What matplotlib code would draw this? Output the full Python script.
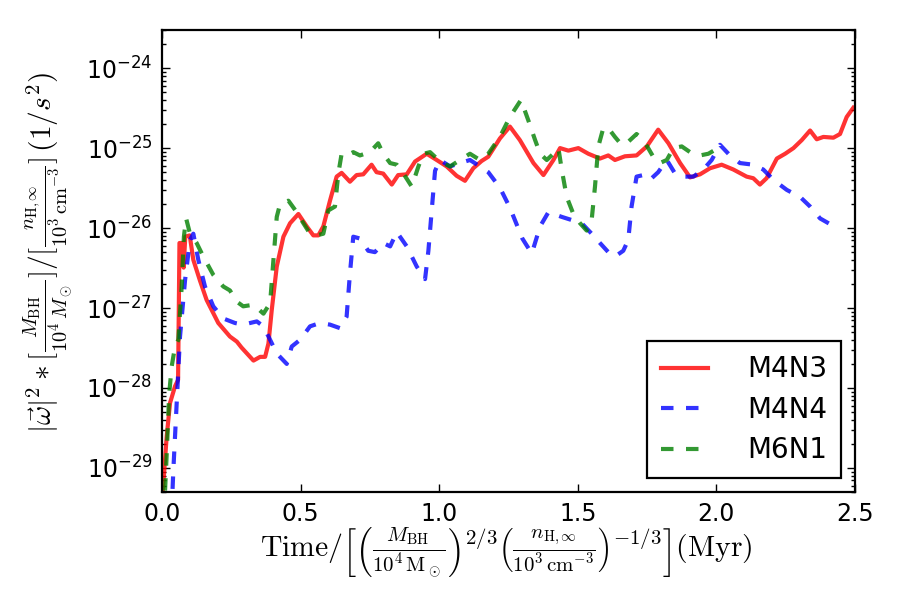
import matplotlib
matplotlib.use("Agg")
import matplotlib.pyplot as plt
from matplotlib.ticker import FormatStrFormatter, LogLocator

plt.rcParams['font.family'] = ['DejaVu Sans']
plt.rcParams['mathtext.fontset'] = 'cm'
plt.rcParams['axes.unicode_minus'] = False

labels = ["M4N3", "M4N4", "M6N1"]

m4n3_t = [0.003, 0.017, 0.029, 0.047, 0.058, 0.063, 0.072, 0.078, 0.084, 0.100,
          0.113, 0.137, 0.161, 0.203, 0.245, 0.270, 0.287, 0.330, 0.354, 0.372,
          0.384, 0.396, 0.414, 0.438, 0.462, 0.492, 0.522, 0.546, 0.564, 0.582,
          0.606, 0.630, 0.648, 0.678, 0.702, 0.726, 0.756, 0.774, 0.798, 0.829,
          0.852, 0.883, 0.913, 0.955, 0.991, 1.027, 1.063, 1.093, 1.123, 1.153,
          1.177, 1.219, 1.255, 1.291, 1.340, 1.376, 1.412, 1.436, 1.466, 1.502,
          1.538, 1.580, 1.610, 1.634, 1.670, 1.712, 1.749, 1.790, 1.827, 1.869,
          1.905, 1.941, 1.977, 2.019, 2.061, 2.109, 2.133, 2.157, 2.181, 2.218,
          2.248, 2.278, 2.308, 2.338, 2.362, 2.386, 2.422, 2.446, 2.470, 2.494]
m4n3_w = [5.2e-30, 2.5e-29, 6.5e-29, 1.05e-28, 1.26e-28, 6.5e-27, 6.5e-27, 3.2e-27, 7.8e-27, 8.1e-27,
          4.0e-27, 2.2e-27, 1.26e-27, 6.5e-28, 4.4e-28, 3.8e-28, 3.2e-28, 2.2e-28, 2.45e-28, 2.45e-28,
          3.6e-28, 9.5e-28, 3.3e-27, 7.8e-27, 1.15e-26, 1.5e-26, 1.05e-26, 8.1e-27, 8.1e-27, 1.05e-26,
          2.2e-26, 4.4e-26, 4.9e-26, 3.8e-26, 4.6e-26, 4.7e-26, 6.2e-26, 5.0e-26, 4.8e-26, 3.5e-26,
          4.6e-26, 4.7e-26, 6.8e-26, 8.5e-26, 7.1e-26, 5.9e-26, 4.5e-26, 3.9e-26, 5.6e-26, 6.9e-26,
          7.8e-26, 1.32e-25, 1.86e-25, 1.26e-25, 6.5e-26, 4.6e-26, 7.1e-26, 1.0e-25, 9.3e-26, 1.0e-25,
          8.5e-26, 7.4e-26, 8.1e-26, 7.1e-26, 7.9e-26, 8.1e-26, 1.05e-25, 1.7e-25, 1.15e-25, 6.5e-26,
          4.3e-26, 4.7e-26, 5.6e-26, 6.2e-26, 5.4e-26, 4.4e-26, 4.2e-26, 3.5e-26, 4.2e-26, 7.4e-26,
          8.5e-26, 1.0e-25, 1.26e-25, 1.66e-25, 1.29e-25, 1.38e-25, 1.35e-25, 1.5e-25, 2.45e-25, 3.2e-25]

m4n4_t = [0.020, 0.035, 0.041, 0.053, 0.065, 0.083, 0.101, 0.113, 0.131, 0.155,
          0.185, 0.221, 0.263, 0.293, 0.342, 0.366, 0.390, 0.414, 0.450, 0.468,
          0.498, 0.534, 0.570, 0.606, 0.642, 0.666, 0.678, 0.690, 0.714, 0.744,
          0.768, 0.798, 0.823, 0.847, 0.883, 0.919, 0.949, 0.961, 0.973, 0.985,
          1.003, 1.039, 1.075, 1.111, 1.147, 1.177, 1.219, 1.255, 1.300, 1.334,
          1.364, 1.394, 1.442, 1.478, 1.514, 1.550, 1.580, 1.610, 1.634, 1.664,
          1.682, 1.694, 1.712, 1.736, 1.760, 1.790, 1.821, 1.851, 1.881, 1.917,
          1.953, 1.983, 2.013, 2.049, 2.085, 2.133, 2.169, 2.206, 2.254, 2.302,
          2.338, 2.374, 2.410, 2.446]
m4n4_w = [3.0e-30, 3.0e-30, 9.5e-30, 6.5e-29, 4.4e-28, 2.2e-27, 7.1e-27, 8.5e-27, 4.0e-27, 1.86e-27,
          1.05e-27, 7.4e-28, 6.5e-28, 6.2e-28, 6.8e-28, 5.9e-28, 4.0e-28, 2.7e-28, 2.0e-28, 3.3e-28,
          4.0e-28, 5.9e-28, 6.5e-28, 6.2e-28, 5.6e-28, 7.8e-28, 2.7e-27, 7.8e-27, 7.4e-27, 5.2e-27,
          5.0e-27, 6.5e-27, 5.9e-27, 8.9e-27, 5.9e-27, 3.3e-27, 2.3e-27, 5.2e-27, 1.66e-26, 5.2e-26,
          7.1e-26, 5.9e-26, 6.5e-26, 7.1e-26, 5.9e-26, 5.0e-26, 3.2e-26, 1.8e-26, 7.4e-27, 4.8e-27,
          1.05e-26, 1.58e-26, 1.38e-26, 1.26e-26, 1.15e-26, 8.5e-27, 6.5e-27, 5.0e-27, 4.4e-27, 5.2e-27,
          7.1e-27, 1.86e-26, 4.4e-26, 4.6e-26, 4.0e-26, 5.0e-26, 7.1e-26, 4.8e-26, 4.4e-26, 4.4e-26,
          5.4e-26, 7.1e-26, 1.1e-25, 8.1e-26, 6.5e-26, 6.2e-26, 5.4e-26, 4.0e-26, 3.0e-26, 2.45e-26,
          1.86e-26, 1.32e-26, 1.12e-26, 1.02e-26]

m6n1_t = [0.011, 0.017, 0.026, 0.035, 0.047, 0.059, 0.071, 0.079, 0.087, 0.101,
          0.125, 0.149, 0.185, 0.221, 0.245, 0.270, 0.293, 0.330, 0.366, 0.390,
          0.402, 0.414, 0.426, 0.456, 0.486, 0.510, 0.534, 0.558, 0.582, 0.600,
          0.624, 0.636, 0.648, 0.666, 0.690, 0.714, 0.750, 0.780, 0.798, 0.823,
          0.847, 0.871, 0.901, 0.925, 0.943, 0.967, 1.003, 1.039, 1.075, 1.111,
          1.147, 1.177, 1.219, 1.255, 1.295, 1.322, 1.346, 1.364, 1.388, 1.412,
          1.430, 1.442, 1.460, 1.484, 1.508, 1.532, 1.550, 1.562, 1.574, 1.592,
          1.610, 1.634, 1.658, 1.682, 1.712, 1.736, 1.754, 1.772, 1.796, 1.821,
          1.845, 1.875, 1.905, 1.941, 1.971, 1.995]
m6n1_w = [5.2e-30, 1.5e-29, 8.5e-29, 1.86e-28, 3.3e-28, 4.0e-28, 1.86e-27, 7.8e-27, 1.32e-26, 8.5e-27,
          6.5e-27, 4.4e-27, 2.6e-27, 1.86e-27, 1.66e-27, 1.2e-27, 1.05e-27, 1.1e-27, 8.5e-28, 1.15e-27,
          4.0e-27, 1.38e-26, 2.0e-26, 2.2e-26, 1.58e-26, 1.15e-26, 8.5e-27, 8.1e-27, 8.5e-27, 1.66e-26,
          1.86e-26, 4.8e-26, 8.5e-26, 8.1e-26, 8.9e-26, 8.1e-26, 8.9e-26, 1.15e-25, 8.5e-26, 6.5e-26,
          6.2e-26, 4.8e-26, 3.3e-26, 5.9e-26, 8.5e-26, 8.9e-26, 6.8e-26, 5.9e-26, 7.1e-26, 8.5e-26,
          7.1e-26, 8.5e-26, 1.38e-25, 2.45e-25, 4.0e-25, 2.2e-25, 1.26e-25, 8.5e-26, 7.1e-26, 8.5e-26,
          1.0e-25, 5.4e-26, 2.45e-26, 1.5e-26, 1.15e-26, 9.3e-27, 1.26e-26, 3.3e-26, 1.05e-25, 1.78e-25,
          1.78e-25, 1.38e-25, 1.1e-25, 1.2e-25, 1.5e-25, 1.26e-25, 1.0e-25, 7.8e-26, 6.5e-26, 7.1e-26,
          1.0e-25, 1.05e-25, 8.9e-26, 8.1e-26, 8.5e-26, 9.5e-26]

xticks = [0.0, 0.5, 1.0, 1.5, 2.0, 2.5]
yticks = [1e-29, 1e-28, 1e-27, 1e-26, 1e-25, 1e-24]

fig = plt.figure(figsize=(9, 6), dpi=100)
ax = fig.add_axes([0.18, 0.18, 0.77, 0.77])

ax.plot(m4n3_t, m4n3_w, color='r', alpha=0.8, lw=3, ls='-', label=labels[0])
ax.plot(m4n4_t, m4n4_w, color='b', alpha=0.8, lw=3, dashes=(3, 3), label=labels[1])
ax.plot(m6n1_t, m6n1_w, color='g', alpha=0.8, lw=3, dashes=(3, 3), label=labels[2])

ax.set_yscale('log')
ax.set_xlim(0, 2.5)
ax.set_ylim(5e-30, 3e-24)
ax.set_xticks(xticks)
ax.xaxis.set_major_formatter(FormatStrFormatter('%.1f'))
ax.set_yticks(yticks)
ax.yaxis.set_minor_locator(LogLocator(base=10, subs=range(2, 10), numticks=20))
ax.yaxis.set_minor_formatter(plt.NullFormatter())

ax.tick_params(which='both', direction='in', top=True, right=True, width=1)
ax.tick_params(which='major', length=6, labelsize=17, pad=7)
ax.tick_params(which='minor', length=3)
for s in ax.spines.values():
    s.set_linewidth(1.6)

xl = ax.set_xlabel(r'$\mathrm{Time}/\left[\left(\frac{M_{\rm BH}}{10^4\,\mathrm{M}_\odot}\right)^{2/3}'
                   r'\left(\frac{n_{\rm H,\infty}}{10^3\,\mathrm{cm}^{-3}}\right)^{-1/3}\right](\mathrm{Myr})$',
                   fontsize=22)
yl = ax.set_ylabel(r'$|\vec{\omega}|^2*[\frac{M_{\rm BH}}{10^4\,M_\odot}]/[\frac{n_{\rm H,\infty}}{10^3\,\mathrm{cm}^{-3}}]\,(1/s^2)$',
                   fontsize=17.5)

# scale label sizes to the reference's extents (pixels)
fig.canvas.draw()
r = fig.canvas.get_renderer()
for _ in range(2):
    bx = xl.get_window_extent(r)
    xl.set_fontsize(xl.get_fontsize() * 493.0 / bx.width)
    by = yl.get_window_extent(r)
    yl.set_fontsize(yl.get_fontsize() * 361.0 / by.height)
    fig.canvas.draw()

# place labels (pixel targets converted to axes coords)
ax_left, ax_right, ax_bottom, ax_top = 162.0, 855.0, 108.0, 570.0  # display coords (origin bottom-left)
ax.xaxis.set_label_coords((506.5 - ax_left) / (ax_right - ax_left), (600 - 526 - ax_bottom) / (ax_top - ax_bottom))
ax.yaxis.set_label_coords((76 - ax_left) / (ax_right - ax_left), (600 - 252.5 - ax_bottom) / (ax_top - ax_bottom))

leg = ax.legend(loc='lower right', fontsize=20, handlelength=1.7, handletextpad=1.4,
                fancybox=False, framealpha=1, borderpad=0.5, labelspacing=0.45)
leg.get_frame().set_edgecolor('black')
leg.get_frame().set_linewidth(1.6)

fig.savefig('out.png', dpi=100, facecolor='white')
